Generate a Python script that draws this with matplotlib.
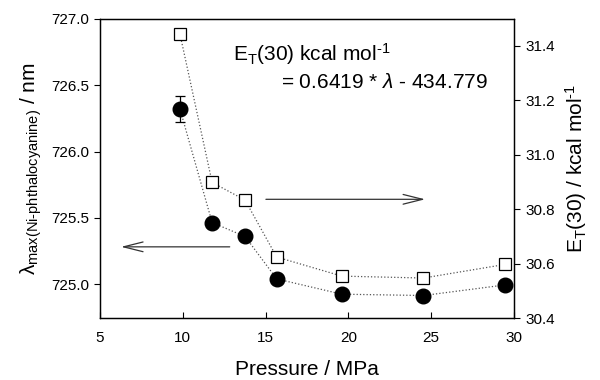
import matplotlib
matplotlib.use('Agg')
import matplotlib.pyplot as plt

plt.rcParams['font.family'] = ['Liberation Sans', 'DejaVu Sans']
plt.rcParams['mathtext.fontset'] = 'custom'
plt.rcParams['mathtext.rm'] = 'Liberation Sans'
plt.rcParams['mathtext.it'] = 'Liberation Sans:italic'
plt.rcParams['mathtext.default'] = 'regular'

# Data
pressure = [9.83, 11.77, 13.76, 15.67, 19.6, 24.53, 29.47]
lambda_max = [726.32, 725.465, 725.36, 725.04, 724.925, 724.915, 724.995]
lambda_err = [0.096, 0, 0, 0, 0, 0, 0]
et30 = [31.442, 30.898, 30.833, 30.624, 30.554, 30.547, 30.597]

fig = plt.figure(figsize=(6, 3.8), dpi=100)
ax = fig.add_axes([0.1667, 0.163, 0.69, 0.787])
ax2 = ax.twinx()

# left axis: filled circles with error bar
ax.errorbar(pressure, lambda_max, yerr=lambda_err, fmt='o', color='black',
            ms=10.5, capsize=3.6, elinewidth=0.9, capthick=0.9, zorder=3)
ax.plot(pressure, lambda_max, ':', color='#555555', lw=0.9, zorder=2)

# right axis: open squares
ax2.plot(pressure, et30, ':', color='#555555', lw=0.9, zorder=2)
ax2.plot(pressure, et30, 's', mfc='white', mec='black', ms=9, mew=0.9, zorder=3)

ax.set_xlim(5, 30)
ax.set_ylim(724.745, 727.0)
ax2.set_ylim(30.4, 31.498)
ax.set_xticks([5, 10, 15, 20, 25, 30])
ax.set_yticks([725.0, 725.5, 726.0, 726.5, 727.0])
ax.set_yticklabels(['725.0', '725.5', '726.0', '726.5', '727.0'])
ax2.set_yticks([30.4, 30.6, 30.8, 31.0, 31.2, 31.4])
ax2.set_yticklabels(['30.4', '30.6', '30.8', '31.0', '31.2', '31.4'])

ax.tick_params(axis='x', direction='in', length=4, labelsize=11, pad=9)
ax.tick_params(axis='y', direction='out', length=4, labelsize=11, pad=4)
ax2.tick_params(axis='y', direction='out', length=4, labelsize=11, pad=4)
for a in (ax, ax2):
    for s in a.spines.values():
        s.set_linewidth(0.9)

ax.set_xlabel('Pressure / MPa', fontsize=15, labelpad=11)
ax.set_ylabel(r'$\lambda_{\mathrm{max(Ni\text{-}phthalocyanine)}}$ / nm', fontsize=15, labelpad=5)
ax2.set_ylabel(r'E$_\mathrm{T}$(30) / kcal mol$^{\text{-}1}$', fontsize=15, labelpad=6)

# arrows pointing to the axes each series belongs to
ax.annotate('', xy=(6.1, 725.282), xytext=(13.0, 725.282),
            arrowprops=dict(arrowstyle='->,head_length=1.4,head_width=0.35',
                            color='#333333', lw=0.9))
ax2.annotate('', xy=(24.8, 30.836), xytext=(14.85, 30.836),
             arrowprops=dict(arrowstyle='->,head_length=1.4,head_width=0.35',
                             color='#333333', lw=0.9))

ax.text(13.04, 0.883, r'E$_\mathrm{T}$(30) kcal mol$^{\text{-}1}$', transform=ax.get_xaxis_transform(),
        fontsize=15, va='center', ha='left')
ax.text(15.9, 0.786, r'= 0.6419 * $\mathit{\lambda}$ - 434.779', transform=ax.get_xaxis_transform(),
        fontsize=15, va='center', ha='left')

fig.savefig('out.png', dpi=100)
